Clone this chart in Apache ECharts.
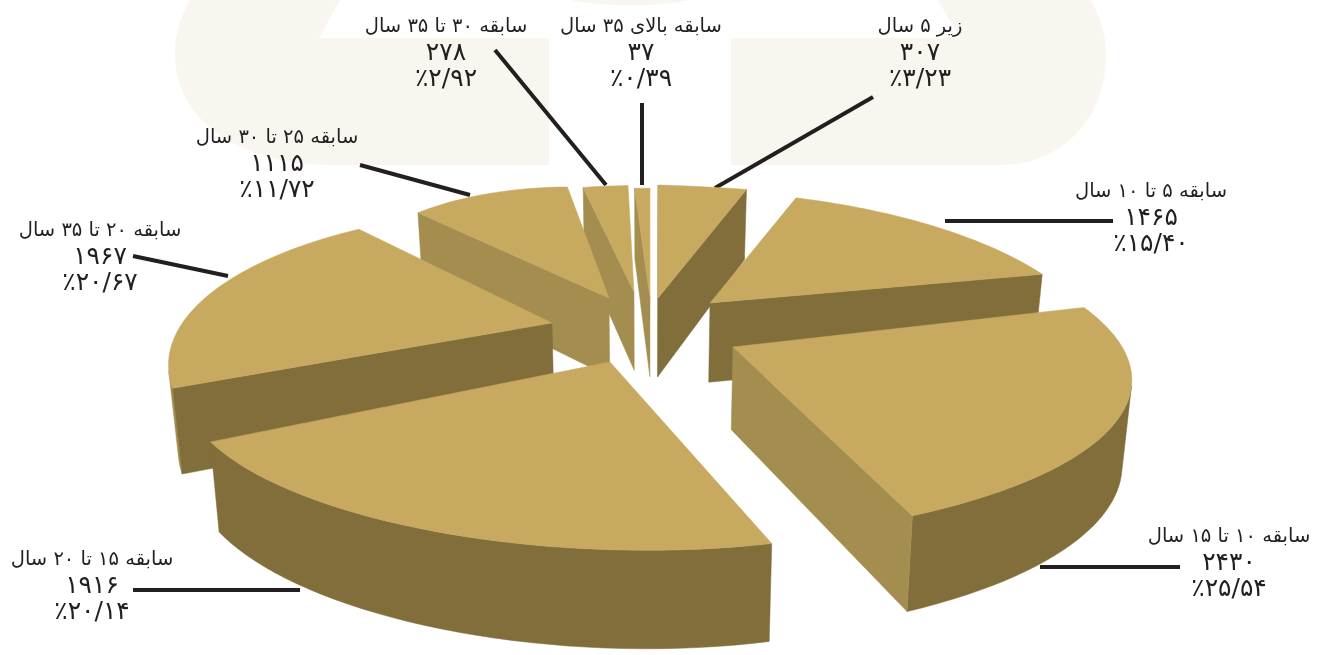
<!DOCTYPE html>
<html lang="fa">
<head>
<meta charset="utf-8">
<title>سابقه خدمت</title>
<script src="https://cdn.jsdelivr.net/npm/echarts@6/dist/echarts.min.js"></script>
<style>
  html, body { margin: 0; padding: 0; background: #fff; }
  #main { width: 1328px; height: 655px; }
</style>
</head>
<body>
<div id="main"></div>
<script>
// data
const categories = ['زیر ۵ سال', 'سابقه ۵ تا ۱۰ سال', 'سابقه ۱۰ تا ۱۵ سال', 'سابقه ۱۵ تا ۲۰ سال',
  'سابقه ۲۰ تا ۳۵ سال', 'سابقه ۲۵ تا ۳۰ سال', 'سابقه ۳۰ تا ۳۵ سال', 'سابقه بالای ۳۵ سال'];
const counts = [307, 1465, 2430, 1916, 1967, 1115, 278, 37];
const percents = [3.23, 15.40, 25.54, 20.14, 20.67, 11.72, 2.92, 0.39];

// hand-fitted placement of each exploded slice:
// tip [x, y], turn in degrees, x and y stretch, tilt (y per x), pinch of the rim's middle
const sliceFit = [
  { tip: [658, 298], turn: 0, sx: 1.32, sy: 1.03, tilt: 0.03, pinch: 0 },
  { tip: [710, 303], turn: 5, sx: 0.9, sy: 1.02, tilt: 0.035, pinch: 0 },
  { tip: [733, 347], turn: 2, sx: 0.98, sy: 0.95, tilt: 0.01, pinch: 0.07 },
  { tip: [610, 362], turn: 4, sx: 0.98, sy: 0.99, tilt: 0.03, pinch: 0 },
  { tip: [552, 323], turn: 15, sx: 0.88, sy: 1.05, tilt: 0, pinch: 0 },
  { tip: [609, 298], turn: 1, sx: 0.66, sy: 1.0, tilt: 0.07, pinch: 0 },
  { tip: [634, 292], turn: 0, sx: 0.74, sy: 0.97, tilt: 0, pinch: 0 },
  { tip: [650, 298], turn: 0, sx: 1.9, sy: 1.0, tilt: 0, pinch: 0 }
];
const drawOrder = [6, 7, 0, 5, 1, 4, 2, 3]; // back to front

// label centre and leader line
const labelFit = [
  { c: [920, 53], line: [[873, 97], [715, 188]] },
  { c: [1151, 218], line: [[1113, 221], [945, 221]] },
  { c: [1229, 563], line: [[1180, 567], [1040, 567]] },
  { c: [92, 586], line: [[133, 590], [300, 590]] },
  { c: [100, 257], line: [[133, 256], [228, 276]] },
  { c: [277, 164], line: [[360, 165], [470, 195]] },
  { c: [446, 53], line: [[495, 50], [606, 185]] },
  { c: [641, 53], line: [[642, 103], [642, 185]] }
];

const TOP = '#c7a960', DARK = '#816e3b', LIGHT = '#a38e50', INK = '#231f20', CREAM = '#f9f6f0';
const RX = 420, RY = 139, PERSP = 0.267;

const faDigits = s => String(s).replace(/\d/g, d => '۰۱۲۳۴۵۶۷۸۹'[d]);
const percentText = p => '٪' + faDigits(p.toFixed(2).replace('.', '/'));

const total = counts.reduce((a, b) => a + b, 0);
let acc = 0;
const spans = counts.map(v => {
  const from = acc / total * 360;
  acc += v;
  return [from, acc / total * 360];
});

// u runs from 0 to 1 along the slice's rim
function rimPoint(i, u) {
  const fit = sliceFit[i];
  const deg = spans[i][0] + (spans[i][1] - spans[i][0]) * u;
  const t = (deg + fit.turn) * Math.PI / 180;
  const r = 1 - fit.pinch * 4 * u * (1 - u);
  const y = -Math.cos(t);
  const w = 1 - PERSP * y;
  const dx = r * RX * fit.sx * Math.sin(t) / w;
  const dy = r * RY * fit.sy * y / w + fit.tilt * dx;
  return [fit.tip[0] + dx, fit.tip[1] + dy];
}
// extruded point under a top point
function drop(p) {
  return [p[0] + (645 - p[0]) * 0.02, p[1] + 70 + (p[1] - 185) * 0.078];
}
function quad(a, b) {
  return [a, b, drop(b), drop(a)];
}
// negative means the face is turned to the viewer
function signedArea(pts) {
  let s = 0;
  pts.forEach((p, j) => {
    const q = pts[(j + 1) % pts.length];
    s += p[0] * q[1] - q[0] * p[1];
  });
  return s;
}

function renderSlice(params, api) {
  const i = api.value(0);
  const fit = sliceFit[i];
  const [from, to] = spans[i];
  const steps = Math.max(2, Math.ceil((to - from) / 2));
  const rim = [];
  for (let s = 0; s <= steps; s++) rim.push(rimPoint(i, s / steps));
  const z2 = drawOrder.indexOf(i) * 3;
  const children = [];
  const face = (points, fill, z) => children.push({
    type: 'polygon',
    shape: { points },
    style: { fill, stroke: fill, lineWidth: 0.5 },
    z2: z
  });
  // outer wall: join the segments turned to the viewer into runs of one colour
  let run = [], runFill = null;
  const flush = () => {
    if (run.length > 1) face(run.concat(run.map(drop).reverse()), runFill, z2);
    run = [];
  };
  for (let s = 0; s < steps; s++) {
    const seen = signedArea(quad(rim[s], rim[s + 1])) < 0;
    const fill = from + (to - from) * s / steps + fit.turn > 238 ? LIGHT : DARK;
    if (!seen || fill !== runFill) flush();
    runFill = fill;
    if (seen) {
      if (!run.length) run.push(rim[s]);
      run.push(rim[s + 1]);
    }
  }
  flush();
  // radial walls: facing right is in shadow, facing left is lit
  const rad = d => (d + fit.turn) * Math.PI / 180;
  const startWall = quad(fit.tip, rim[0]);
  const endWall = quad(rim[steps], fit.tip);
  if (signedArea(startWall) < 0) face(startWall, -Math.cos(rad(from)) < 0 ? LIGHT : DARK, z2);
  if (signedArea(endWall) < 0) face(endWall, Math.cos(rad(to)) < 0 ? LIGHT : DARK, z2);
  face([fit.tip].concat(rim), TOP, z2 + 1);
  return { type: 'group', children };
}

function bezier(p0, p1, p2, p3) {
  const out = [];
  for (let s = 0; s <= 24; s++) {
    const t = s / 24, u = 1 - t;
    out.push([0, 1].map(k => u * u * u * p0[k] + 3 * u * u * t * p1[k] + 3 * u * t * t * p2[k] + t * t * t * p3[k]));
  }
  return out;
}
const cream = points => ({ type: 'polygon', z: -2, shape: { points }, style: { fill: CREAM } });

const graphics = [
  cream([[340, 0], [319, 38], [549, 38], [549, 165]]
    .concat(bezier([330, 165], [240, 165], [175, 120], [175, 55]), bezier([175, 55], [175, 30], [182, 15], [190, 0]))),
  cream([[938, 0], [960, 38], [731, 38], [731, 165]]
    .concat(bezier([1000, 165], [1065, 165], [1106, 115], [1106, 55]), bezier([1106, 55], [1106, 35], [1100, 15], [1090, 0]))),
  cream(bezier([570, 0], [600, 7], [660, 7], [690, 0]))
];
const textLine = (x, y, text, size) => ({
  type: 'text', z: 5,
  style: { x, y, text, align: 'center', verticalAlign: 'middle', font: size + 'px "DejaVu Sans"', fill: INK }
});
labelFit.forEach((l, i) => {
  graphics.push({
    type: 'polyline', z: 0,
    shape: { points: l.line },
    style: { stroke: INK, lineWidth: 4, fill: null }
  });
  graphics.push(textLine(l.c[0], l.c[1] - 26, categories[i], 19.5));
  graphics.push(textLine(l.c[0], l.c[1], faDigits(counts[i]), 25));
  graphics.push(textLine(l.c[0], l.c[1] + 26, percentText(percents[i]), 25));
});

const myChart = echarts.init(document.getElementById('main'));
myChart.setOption({
  animation: false,
  backgroundColor: '#fff',
  graphic: graphics,
  series: [{
    type: 'custom',
    coordinateSystem: 'none',
    z: 2,
    silent: true,
    renderItem: renderSlice,
    data: counts.map((v, i) => [i, v])
  }]
});
</script>
</body>
</html>
